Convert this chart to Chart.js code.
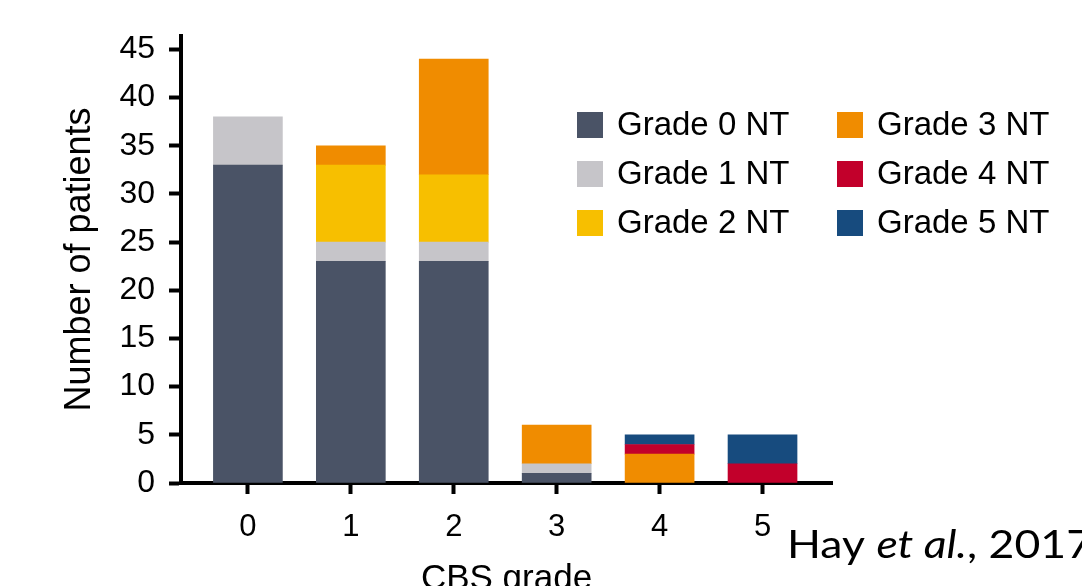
<!DOCTYPE html>
<html>
<head>
<meta charset="utf-8">
<script src="https://cdn.jsdelivr.net/npm/chart.js@4/dist/chart.umd.min.js"></script>
<style>
  html, body { margin: 0; padding: 0; background: #fff; }
  #wrap { width: 1082px; height: 586px; }
</style>
</head>
<body>
<div id="wrap"><canvas id="cbsChart" width="1082" height="586"></canvas></div>
<script>
// CBS grade on the x axis, neurotoxicity grade stacked
const cbsGrades = [0, 1, 2, 3, 4, 5];
const grade0NT = [33, 23, 23, 1, 0, 0];
const grade1NT = [5, 2, 2, 1, 0, 0];
const grade2NT = [0, 8, 7, 0, 0, 0];
const grade3NT = [0, 2, 12, 4, 3, 0];
const grade4NT = [0, 0, 0, 0, 1, 2];
const grade5NT = [0, 0, 0, 0, 1, 3];
const yTicks = [0, 5, 10, 15, 20, 25, 30, 35, 40, 45];

const seriesNames = ['Grade 0 NT', 'Grade 1 NT', 'Grade 2 NT', 'Grade 3 NT', 'Grade 4 NT', 'Grade 5 NT'];
const seriesValues = [grade0NT, grade1NT, grade2NT, grade3NT, grade4NT, grade5NT];
const seriesColors = ['#4a5366', '#c6c5c9', '#f7bf00', '#f08c00', '#c2002b', '#174b7e'];

const font = "'Liberation Sans', Arial, sans-serif";

// draws the 2 x 3 legend and the citation
const extras = {
    id: 'extras',
    afterDraw(chart) {
        const c = chart.ctx;
        c.save();
        c.font = '33px ' + font;
        c.textBaseline = 'middle';
        c.textAlign = 'left';
        chart.data.datasets.forEach(function(ds, i) {
            const col = Math.floor(i / 3);
            const row = i % 3;
            const x = 577 + col * 260;
            const y = 125 + row * 49;
            c.fillStyle = ds.backgroundColor;
            c.fillRect(x, y - 13, 26, 26);
            c.fillStyle = '#000';
            c.fillText(ds.label, x + 40, y + 1);
        });

        // Hay et al., 2017
        const parts = [
            { t: 'Hay ', f: '38px Lato, "Open Sans", sans-serif' },
            { t: 'et al.', f: 'italic 38px Lato, "Open Sans", sans-serif' },
            { t: ', 2017', f: '38px Lato, "Open Sans", sans-serif' }
        ];
        let total = 0;
        parts.forEach(function(p) { c.font = p.f; total += c.measureText(p.t).width; });
        const sx = 305 / total;
        c.translate(787, 558);
        c.scale(sx, 1);
        c.textBaseline = 'alphabetic';
        let px = 0;
        parts.forEach(function(p) {
            c.font = p.f;
            c.fillText(p.t, px, 0);
            px += c.measureText(p.t).width;
        });
        c.restore();
    }
};

const ctx = document.getElementById('cbsChart').getContext('2d');
new Chart(ctx, {
    type: 'bar',
    data: {
        datasets: seriesNames.map(function(name, i) {
            return {
                label: name,
                // leave out empty segments so no hairline is drawn
                data: cbsGrades
                    .map(function(g, j) { return { x: g, y: seriesValues[i][j] }; })
                    .filter(function(p) { return p.y > 0; }),
                backgroundColor: seriesColors[i],
                borderWidth: 0,
                barThickness: 69
            };
        })
    },
    options: {
        responsive: false,
        animation: false,
        layout: { padding: { top: 36, right: 250, bottom: 0, left: 0 } },
        plugins: {
            legend: { display: false },
            tooltip: { enabled: false }
        },
        scales: {
            x: {
                type: 'linear',
                stacked: true,
                offset: false,
                min: -0.65,
                max: 5.675,
                afterBuildTicks: function(axis) {
                    axis.ticks = cbsGrades.map(function(v) { return { value: v }; });
                },
                afterFit: function(axis) { axis.height = 103; },
                ticks: {
                    color: '#000',
                    font: { size: 31, family: font },
                    padding: 15,
                    maxRotation: 0,
                    callback: function(v) { return String(v); }
                },
                grid: {
                    offset: false,
                    drawOnChartArea: false,
                    drawTicks: true,
                    tickLength: 11,
                    tickWidth: 4,
                    tickColor: '#000'
                },
                border: { color: '#000', width: 4 },
                title: {
                    display: true,
                    text: 'CBS grade',
                    color: '#000',
                    font: { size: 35, family: font },
                    padding: { top: 0, bottom: -14 }
                }
            },
            y: {
                stacked: true,
                min: 0,
                max: 46.4,
                afterBuildTicks: function(axis) {
                    axis.ticks = yTicks.map(function(v) { return { value: v }; });
                },
                afterFit: function(axis) { axis.width = 181; },
                ticks: {
                    color: '#000',
                    font: { size: 32, family: font },
                    padding: 14
                },
                grid: {
                    drawOnChartArea: false,
                    drawTicks: true,
                    tickLength: 12,
                    tickWidth: 4,
                    tickColor: '#000'
                },
                border: { color: '#000', width: 4 },
                title: {
                    display: true,
                    text: 'Number of patients',
                    color: '#000',
                    font: { size: 36, family: font },
                    padding: { top: 58, bottom: 0 }
                }
            }
        }
    },
    plugins: [extras]
});
</script>
</body>
</html>
